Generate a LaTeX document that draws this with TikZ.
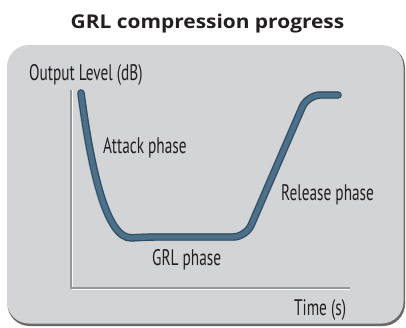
\documentclass[tikz,border=0pt]{standalone}
\usepackage{fontspec}
\newfontfamily\titlefont[FakeStretch=1.1]{Open Sans}
\newfontfamily\labfont[FakeStretch=0.68]{PT Sans}
\definecolor{panel}{RGB}{211,212,214}
\definecolor{panelshadow}{RGB}{105,106,108}
\definecolor{curveblue}{RGB}{76,112,138}
\definecolor{curvedark}{RGB}{46,76,98}
\definecolor{axisgray}{RGB}{150,151,153}
\definecolor{txt}{RGB}{35,31,32}
\tikzset{
  lab/.style={font=\labfont\fontsize{22.5}{25}\selectfont, text=txt, inner sep=0pt, anchor=base west},
  ttl/.style={font=\titlefont\bfseries\fontsize{19}{22}\selectfont, text=txt, inner sep=0pt, anchor=base},
}
\begin{document}
\begin{tikzpicture}[x=1pt,y=-1pt]
\useasboundingbox (0,0) rectangle (406,327);
\fill[white] (0,0) rectangle (406,327);
% panel
\fill[panelshadow, rounded corners=22pt] (7.5,46) rectangle (405,326);
\fill[panel, rounded corners=22pt] (7,45) rectangle (403.5,323.5);
% title
\node[ttl] (title) at (207.5,28) {GRL compression progress};
% axes
\coordinate (o) at (71,288);
\coordinate (ytop) at (71,90);
\coordinate (xend) at (350,288);
\draw[white!85!panel, line width=1.2pt] ([shift={(1.6,0)}]ytop) -- ([shift={(1.6,1.6)}]o) -- ([shift={(0,1.6)}]xend);
\draw[axisgray, line width=2.4pt] (ytop) -- (o) -- (xend);
% curve
\coordinate (c0) at (81,93);
\coordinate (c1) at (145,237);
\coordinate (c2) at (246,237);
\coordinate (c3) at (307.5,95);
\coordinate (c4) at (338,95);
\draw[gray!60, line width=8pt, line cap=round, rounded corners=13pt, shift={(-0.8,-1)}]
  (c0) .. controls (90,160) and (105,240) .. (c1) -- (c2) -- (c3) -- (c4);
\draw[curvedark, line width=7.4pt, line cap=round, rounded corners=13pt]
  (c0) .. controls (90,160) and (105,240) .. (c1) -- (c2) -- (c3) -- (c4);
\draw[curveblue, line width=5pt, line cap=round, rounded corners=13pt, shift={(-0.3,-0.5)}]
  (c0) .. controls (90,160) and (105,240) .. (c1) -- (c2) -- (c3) -- (c4);
% labels
\node[lab] (ylab) at (29,80) {Output Level (dB)};
\node[lab] (attack) at (103,153) {Attack phase};
\node[lab] (release) at (281,200) {Release phase};
\node[lab] (grl) at (152,265) {GRL phase};
\node[lab] (xlab) at (294,315.5) {Time (s)};
\end{tikzpicture}
\end{document}
